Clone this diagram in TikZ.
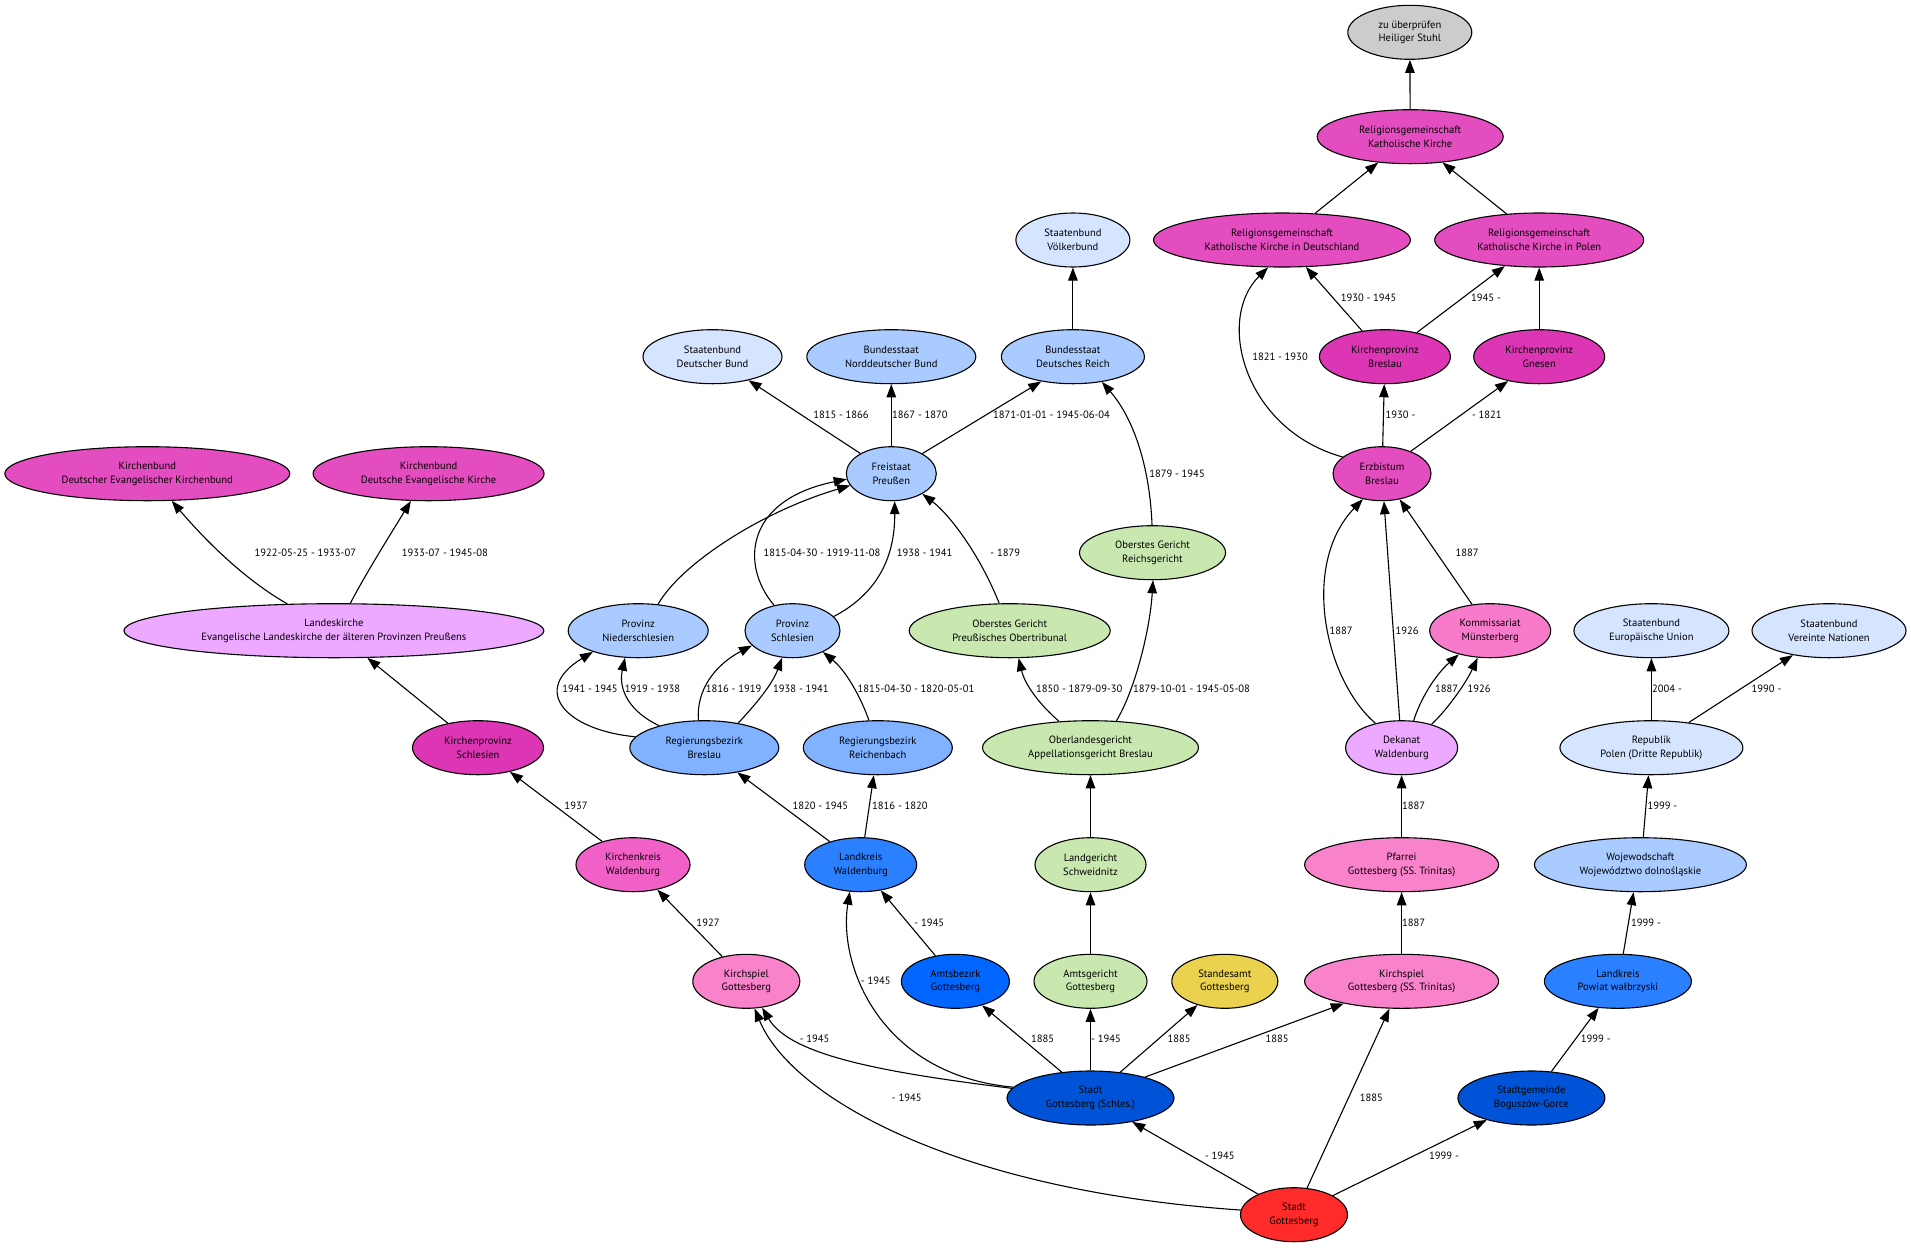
\documentclass[tikz,border=0pt]{standalone}
\usepackage{fontspec}
\setmainfont{PT Sans}
\usetikzlibrary{shapes.geometric,arrows.meta}
\definecolor{cGrey}{HTML}{CCCCCC}
\definecolor{cRel}{HTML}{E44DBF}
\definecolor{cKP}{HTML}{DD36B5}
\definecolor{cKK}{HTML}{F060C6}
\definecolor{cKS}{HTML}{F883CA}
\definecolor{cKom}{HTML}{F87ACB}
\definecolor{cLight}{HTML}{EDA8FF}
\definecolor{cSB}{HTML}{D5E4FF}
\definecolor{cBund}{HTML}{A9CBFF}
\definecolor{cRB}{HTML}{80B2FF}
\definecolor{cLKr}{HTML}{2B80FF}
\definecolor{cAB}{HTML}{0066FF}
\definecolor{cStadt}{HTML}{0052D6}
\definecolor{cRed}{HTML}{FF2A2A}
\definecolor{cGreen}{HTML}{C8E8B0}
\definecolor{cYel}{HTML}{EAD24F}
\begin{document}
\begin{tikzpicture}[x=1bp,y=-1bp,
  nd/.style={ellipse, draw, line width=1.1bp, inner sep=0pt, minimum height=54bp, align=center,
    font=\fontsize{10.6}{13.7}\selectfont},
  lab/.style={inner sep=0pt, font=\fontsize{10.6}{12}\selectfont},
  e/.style={line width=1.1bp, -{Triangle[length=13bp,width=9.5bp]}}]
\fill[white] (0,0) rectangle (1911,1248);
\useasboundingbox (0,0) rectangle (1911,1248);
% nodes
\node[nd, fill=cGrey, minimum width=124bp] (HS) at (1409.8,32.3) {zu überprüfen\\Heiliger Stuhl};
\node[nd, fill=cRel, minimum width=186bp] (KK) at (1410.2,136.7) {Religionsgemeinschaft\\Katholische Kirche};
\node[nd, fill=cRel, minimum width=257bp] (KKD) at (1282,240) {Religionsgemeinschaft\\Katholische Kirche in Deutschland};
\node[nd, fill=cRel, minimum width=209bp] (KKP) at (1539.2,240) {Religionsgemeinschaft\\Katholische Kirche in Polen};
\node[nd, fill=cSB, minimum width=114bp] (VB) at (1072.9,240) {Staatenbund\\Völkerbund};
\node[nd, fill=cSB, minimum width=139bp] (DB) at (712.5,356.7) {Staatenbund\\Deutscher Bund};
\node[nd, fill=cBund, minimum width=169bp] (NB) at (891.3,356.7) {Bundesstaat\\Norddeutscher Bund};
\node[nd, fill=cBund, minimum width=143bp] (DR) at (1072.9,356.7) {Bundesstaat\\Deutsches Reich};
\node[nd, fill=cKP, minimum width=131bp] (KPB) at (1384.9,356.7) {Kirchenprovinz\\Breslau};
\node[nd, fill=cKP, minimum width=131bp] (KPG) at (1539.2,356.7) {Kirchenprovinz\\Gnesen};
\node[nd, fill=cRel, minimum width=285bp] (KB1) at (147.3,473.7) {Kirchenbund\\Deutscher Evangelischer Kirchenbund};
\node[nd, fill=cRel, minimum width=231bp] (KB2) at (428.6,473.7) {Kirchenbund\\Deutsche Evangelische Kirche};
\node[nd, fill=cBund, minimum width=90bp] (FP) at (891.3,473.7) {Freistaat\\Preußen};
\node[nd, fill=cRel, minimum width=98bp] (EB) at (1382,473.7) {Erzbistum\\Breslau};
\node[nd, fill=cGreen, minimum width=146bp] (OGR) at (1152.5,552.7) {Oberstes Gericht\\Reichsgericht};
\node[nd, fill=cLight, minimum width=420bp] (LK) at (333.9,630.7) {Landeskirche\\Evangelische Landeskirche der älteren Provinzen Preußens};
\node[nd, fill=cBund, minimum width=140bp] (PN) at (638.2,630.7) {Provinz\\Niederschlesien};
\node[nd, fill=cBund, minimum width=95bp] (PS) at (792.5,630.7) {Provinz\\Schlesien};
\node[nd, fill=cGreen, minimum width=201bp] (OGP) at (1009.7,630.7) {Oberstes Gericht\\Preußisches Obertribunal};
\node[nd, fill=cKom, minimum width=121bp] (KM) at (1490.2,630.7) {Kommissariat\\Münsterberg};
\node[nd, fill=cSB, minimum width=155bp] (EU) at (1651.4,630.7) {Staatenbund\\Europäische Union};
\node[nd, fill=cSB, minimum width=154bp] (VN) at (1829,630.7) {Staatenbund\\Vereinte Nationen};
\node[nd, fill=cKP, minimum width=131bp] (KPS) at (478,747.7) {Kirchenprovinz\\Schlesien};
\node[nd, fill=cRB, minimum width=149bp] (RB) at (704.3,747.7) {Regierungsbezirk\\Breslau};
\node[nd, fill=cRB, minimum width=149bp] (RR) at (877.8,747.7) {Regierungsbezirk\\Reichenbach};
\node[nd, fill=cGreen, minimum width=216bp] (OLG) at (1090.5,747.7) {Oberlandesgericht\\Appellationsgericht Breslau};
\node[nd, fill=cLight, minimum width=112bp] (DW) at (1401.6,747.7) {Dekanat\\Waldenburg};
\node[nd, fill=cSB, minimum width=183bp] (RP) at (1651.4,747.7) {Republik\\Polen (Dritte Republik)};
\node[nd, fill=cKK, minimum width=114bp] (KW) at (633,864.7) {Kirchenkreis\\Waldenburg};
\node[nd, fill=cLKr, minimum width=112bp] (LW) at (860.7,864.7) {Landkreis\\Waldenburg};
\node[nd, fill=cGreen, minimum width=111bp] (LG) at (1090.5,864.7) {Landgericht\\Schweidnitz};
\node[nd, fill=cKS, minimum width=194bp] (PF) at (1401.6,864.7) {Pfarrei\\Gottesberg (SS. Trinitas)};
\node[nd, fill=cBund, minimum width=212bp] (WJ) at (1640.4,864.7) {Wojewodschaft\\Województwo dolnośląskie};
\node[nd, fill=cKS, minimum width=107bp] (KG) at (746.3,981.3) {Kirchspiel\\Gottesberg};
\node[nd, fill=cAB, minimum width=108bp] (AB) at (955.4,981.3) {Amtsbezirk\\Gottesberg};
\node[nd, fill=cGreen, minimum width=113bp] (AG) at (1090.5,981.3) {Amtsgericht\\Gottesberg};
\node[nd, fill=cYel, minimum width=106bp] (SA) at (1224.8,981.3) {Standesamt\\Gottesberg};
\node[nd, fill=cKS, minimum width=194bp] (KGT) at (1401.6,981.3) {Kirchspiel\\Gottesberg (SS. Trinitas)};
\node[nd, fill=cLKr, minimum width=147bp] (LP) at (1617.9,981.3) {Landkreis\\Powiat wałbrzyski};
\node[nd, fill=cStadt, minimum width=167bp] (SGS) at (1090.5,1098) {Stadt\\Gottesberg (Schles.)};
\node[nd, fill=cStadt, minimum width=147bp] (SBG) at (1531.4,1098) {Stadtgemeinde\\Boguszów-Gorce};
\node[nd, fill=cRed, minimum width=107bp] (SG) at (1294,1214.7) {Stadt\\Gottesberg};
% edges
\draw[e] (KK) -- (HS);
\draw[e] (KKD) -- (KK);
\draw[e] (KKP) -- (KK);
\draw[e] (KPB) -- (KKD);
\draw[e] (KPB) -- (KKP);
\draw[e] (KPG) -- (KKP);
\draw[e] (EB.157.8) .. controls (1245,430) and (1215,320) .. (KKD.243.4);
\draw[e] (EB) -- (KPB);
\draw[e] (EB.38.5) -- (KPG.218.5);
\draw[e] (DW.137.1) .. controls (1325,680) and (1300,565) .. (EB.233.5);
\draw[e] (DW.94) -- (EB.274);
\draw[e] (KM) -- (EB);
\draw[e] (DW.66.3) .. controls (1420,700) and (1435,675) .. (KM.217.6);
\draw[e] (DW.38) .. controls (1445,712) and (1465,685) .. (KM.245);
\draw[e] (PF) -- (DW);
\draw[e] (KGT) -- (PF);
\draw[e] (SG.64) -- (KGT.246.7);
\draw[e] (SGS.21.5) -- (KGT.201.6);
\draw[e] (SG) -- (SBG);
\draw[e] (SBG.53.2) -- (LP.234.3);
\draw[e] (LP.79.8) -- (WJ.256);
\draw[e] (WJ.84.6) -- (RP.264);
\draw[e] (RP) -- (EU);
\draw[e] (RP.34.4) -- (VN.214.9);
\draw[e] (SG) -- (SGS);
\draw[e] (SG.175.7) .. controls (950,1190) and (790,1095) .. (KG.287.7);
\draw[e] (SGS.173) .. controls (880,1072) and (790,1055) .. (KG.301.3);
\draw[e] (SGS.172.7) .. controls (880,1075) and (838,965) .. (LW.248.7);
\draw[e] (SGS.138.9) -- (AB.318.9);
\draw[e] (SGS) -- (AG);
\draw[e] (SGS.41) -- (SA.221);
\draw[e] (AB.128) -- (LW.308);
\draw[e] (KG) -- (KW);
\draw[e] (KW) -- (KPS);
\draw[e] (KPS) -- (LK);
\draw[e] (LK.150.4) .. controls (245,580) and (205,540) .. (KB1.312);
\draw[e] (LK.59.6) .. controls (365,575) and (390,535) .. (KB2.237.9);
\draw[e] (RB.171.4) .. controls (565,730) and (530,690) .. (PN.205.7);
\draw[e] (RB.154.3) .. controls (630,712) and (618,690) .. (PN.244);
\draw[e] (RB.102.8) .. controls (696,690) and (715,665) .. (PS.200.5);
\draw[e] (RB.36.6) .. controls (755,705) and (772,685) .. (PS.249);
\draw[e] (RR.108) .. controls (860,695) and (845,670) .. (PS.325.3);
\draw[e] (PN.53.8) .. controls (680,565) and (760,512) .. (FP.196.4);
\draw[e] (PS.126.2) .. controls (740,565) and (745,500) .. (FP.187.7);
\draw[e] (PS.19) .. controls (875,595) and (895,560) .. (FP.277.5);
\draw[e] (OGP.111) .. controls (980,555) and (950,515) .. (FP.327.5);
\draw[e] (FP) -- (DB);
\draw[e] (FP) -- (NB);
\draw[e] (FP.33.8) -- (DR.218.4);
\draw[e] (OGR.91.5) .. controls (1150,470) and (1135,420) .. (DR.319.8);
\draw[e] (DR) -- (VB);
\draw[e] (OLG.140.9) .. controls (1040,705) and (1025,685) .. (OGP.288);
\draw[e] (OLG.46.7) .. controls (1135,690) and (1150,630) .. (OGR.271);
\draw[e] (LG) -- (OLG);
\draw[e] (AG) -- (LG);
\draw[e] (LW) -- (RB);
\draw[e] (LW) -- (RR);
% labels
\node[lab] (L1) at (841,415) {1815 - 1866};
\node[lab, anchor=west] (L2) at (892,415) {1867 - 1870};
\node[lab, anchor=west] (L3) at (993,415) {1871-01-01 - 1945-06-04};
\node[lab] (L4) at (1368.5,297.7) {1930 - 1945};
\node[lab, anchor=west] (L5) at (1471,297.7) {1945 -};
\node[lab] (L6) at (1280,357) {1821 - 1930};
\node[lab, anchor=west] (L7) at (1385.5,415) {1930 -};
\node[lab, anchor=west] (L8) at (1471.8,415) {- 1821};
\node[lab] (L9) at (305.3,552.3) {1922-05-25 - 1933-07};
\node[lab] (L10) at (444.9,552.3) {1933-07 - 1945-08};
\node[lab] (L11) at (822,552.3) {1815-04-30 - 1919-11-08};
\node[lab, anchor=west] (L12) at (896.6,552.3) {1938 - 1941};
\node[lab] (L13) at (1005.2,552.3) {- 1879};
\node[lab] (L14) at (1177,473.3) {1879 - 1945};
\node[lab] (L15) at (1467,552.3) {1887};
\node[lab] (L16) at (1341.2,630.7) {1887};
\node[lab] (L17) at (1407,630.7) {1926};
\node[lab] (L18) at (590,689) {1941 - 1945};
\node[lab] (L19) at (652.5,689) {1919 - 1938};
\node[lab, anchor=west] (L20) at (705.6,689) {1816 - 1919};
\node[lab, anchor=west] (L21) at (773,689) {1938 - 1941};
\node[lab, anchor=west] (L22) at (857.4,689) {1815-04-30 - 1820-05-01};
\node[lab, anchor=west] (L23) at (1036,689) {1850 - 1879-09-30};
\node[lab, anchor=west] (L24) at (1133,689) {1879-10-01 - 1945-05-08};
\node[lab] (L25) at (1446.5,689) {1887};
\node[lab] (L26) at (1479,689) {1926};
\node[lab, anchor=west] (L27) at (1652,689) {2004 -};
\node[lab] (L28) at (1766.5,689) {1990 -};
\node[lab] (L29) at (576,805.7) {1937};
\node[lab] (L30) at (820.3,805.7) {1820 - 1945};
\node[lab, anchor=west] (L31) at (872,805.7) {1816 - 1820};
\node[lab, anchor=west] (L32) at (1402,805.7) {1887};
\node[lab, anchor=west] (L33) at (1647.3,805.7) {1999 -};
\node[lab] (L34) at (708,922.3) {1927};
\node[lab] (L35) at (929.2,922.3) {- 1945};
\node[lab, anchor=west] (L36) at (1402,922.3) {1887};
\node[lab, anchor=west] (L37) at (1631,922.3) {1999 -};
\node[lab] (L38) at (875.8,981) {- 1945};
\node[lab] (L39) at (814.6,1039) {- 1945};
\node[lab] (L40) at (1042.7,1039) {1885};
\node[lab, anchor=west] (L41) at (1091,1039) {- 1945};
\node[lab] (L42) at (1179,1039) {1885};
\node[lab] (L43) at (1277,1039) {1885};
\node[lab, anchor=west] (L44) at (1580.7,1039) {1999 -};
\node[lab] (L45) at (906.8,1097.3) {- 1945};
\node[lab] (L46) at (1371.4,1097.3) {1885};
\node[lab] (L47) at (1219.9,1156) {- 1945};
\node[lab] (L48) at (1444,1156) {1999 -};
\end{tikzpicture}
\end{document}
